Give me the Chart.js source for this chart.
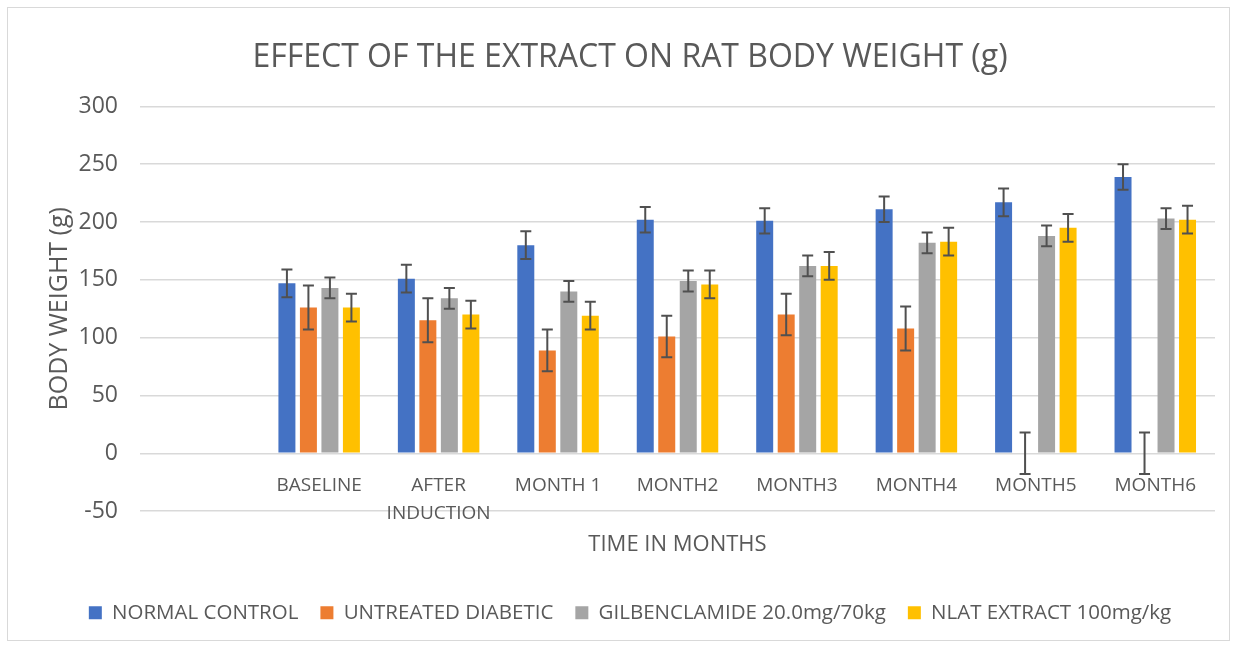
<!DOCTYPE html>
<html>
<head>
<meta charset="utf-8">
<script src="https://cdn.jsdelivr.net/npm/chart.js@4"></script>
<style>
  body { margin: 0; background: #fff; }
  #wrap { position: relative; width: 1244px; height: 649px; }
  #frame { position: absolute; left: 7px; top: 7px; width: 1221px; height: 632px;
           border: 1px solid #d9d9d9; pointer-events: none; }
</style>
</head>
<body>
<div id="wrap">
  <canvas id="chart"></canvas>
  <div id="frame"></div>
</div>
<script>
// categories (first slot is empty, as in the original sheet)
var categories = ['', 'BASELINE', ['AFTER', 'INDUCTION'], 'MONTH 1', 'MONTH2', 'MONTH3', 'MONTH4', 'MONTH5', 'MONTH6'];

// mean body weight (g)
var normalControl   = [null, 147, 151, 180, 202, 201, 211, 217, 239];
var untreated       = [null, 126, 115,  89, 101, 120, 108,   0,   0];
var gilbenclamide   = [null, 143, 134, 140, 149, 162, 182, 188, 203];
var nlatExtract     = [null, 126, 120, 119, 146, 162, 183, 195, 202];

// error bar half-widths
var normalControlErr = [null, 12, 12, 12, 11, 11, 11, 12, 11];
var untreatedErr     = [null, 19, 19, 18, 18, 18, 19, 18, 18];
var gilbenclamideErr = [null,  9,  9,  9,  9,  9,  9,  9,  9];
var nlatExtractErr   = [null, 12, 12, 12, 12, 12, 12, 12, 12];

var yTicks = { min: -50, max: 300, step: 50 };

var textColor = '#595959';
var font = "'Open Sans', sans-serif";

// draws the error bars from the errors array on each dataset
var errorBars = {
    id: 'errorBars',
    afterDraw: function(chart) {
        var ctx = chart.ctx;
        var yScale = chart.scales.y;
        ctx.save();
        ctx.strokeStyle = '#505050';
        ctx.lineWidth = 2;
        chart.data.datasets.forEach(function(ds, i) {
            var meta = chart.getDatasetMeta(i);
            meta.data.forEach(function(bar, j) {
                var v = ds.data[j], e = ds.errors[j];
                if (v === null || e === null) return;
                var x = bar.x;
                var top = yScale.getPixelForValue(v + e);
                var bot = yScale.getPixelForValue(v - e);
                ctx.beginPath();
                ctx.moveTo(x, top); ctx.lineTo(x, bot);
                ctx.moveTo(x - 5.5, top); ctx.lineTo(x + 5.5, top);
                ctx.moveTo(x - 5.5, bot); ctx.lineTo(x + 5.5, bot);
                ctx.stroke();
            });
        });
        ctx.restore();
    }
};

var data = {
    labels: categories,
    datasets: [
        { label: 'NORMAL CONTROL', data: normalControl, errors: normalControlErr, backgroundColor: '#4472C4' },
        { label: 'UNTREATED DIABETIC', data: untreated, errors: untreatedErr, backgroundColor: '#ED7D31' },
        { label: 'GILBENCLAMIDE 20.0mg/70kg', data: gilbenclamide, errors: gilbenclamideErr, backgroundColor: '#A5A5A5' },
        { label: 'NLAT EXTRACT 100mg/kg', data: nlatExtract, errors: nlatExtractErr, backgroundColor: '#FFC000' }
    ]
};

var options = {
    responsive: true,
    maintainAspectRatio: false,
    animation: false,
    categoryPercentage: 0.72,
    barPercentage: 0.79,
    layout: { padding: { top: 20, left: 45, right: 29, bottom: 16 } },
    plugins: {
        title: {
            display: true,
            text: 'EFFECT OF THE EXTRACT ON RAT BODY WEIGHT (g)',
            color: textColor,
            font: { family: font, size: 32, weight: 'normal' },
            padding: { top: 19, bottom: 29 }
        },
        legend: {
            position: 'bottom',
            title: { display: true, text: ' ', font: { size: 2 }, padding: { top: 67, bottom: 0 } },
            labels: {
                color: textColor,
                font: { family: font, size: 20.5 },
                boxWidth: 13,
                boxHeight: 13,
                padding: 22
            }
        },
        tooltip: { enabled: false }
    },
    scales: {
        x: {
            position: { y: 0 },
            grid: { display: false, drawTicks: false },
            border: { display: false },
            ticks: {
                color: textColor,
                font: { family: font, size: 19, lineHeight: 1.47 },
                padding: 18,
                maxRotation: 0,
                autoSkip: false
            },
            title: {
                display: true,
                text: 'TIME IN MONTHS',
                color: textColor,
                font: { family: font, size: 22 },
                padding: { top: 0, bottom: 0 }
            },
            afterFit: function(scale) { scale.height -= 14; }
        },
        y: {
            min: yTicks.min,
            max: yTicks.max,
            grid: { color: '#d9d9d9', lineWidth: 1.5, drawTicks: false },
            border: { display: false },
            ticks: {
                stepSize: yTicks.step,
                color: textColor,
                font: { family: font, size: 23 },
                padding: 22
            },
            title: {
                display: true,
                text: 'BODY WEIGHT (g)',
                color: textColor,
                font: { family: font, size: 25 },
                padding: { top: 0, bottom: 0 }
            },
            afterFit: function(scale) { scale.width = 95; }
        }
    }
};

var chart = new Chart(document.getElementById('chart'), {
    type: 'bar',
    data: data,
    options: options,
    plugins: [errorBars]
});
</script>
</body>
</html>
